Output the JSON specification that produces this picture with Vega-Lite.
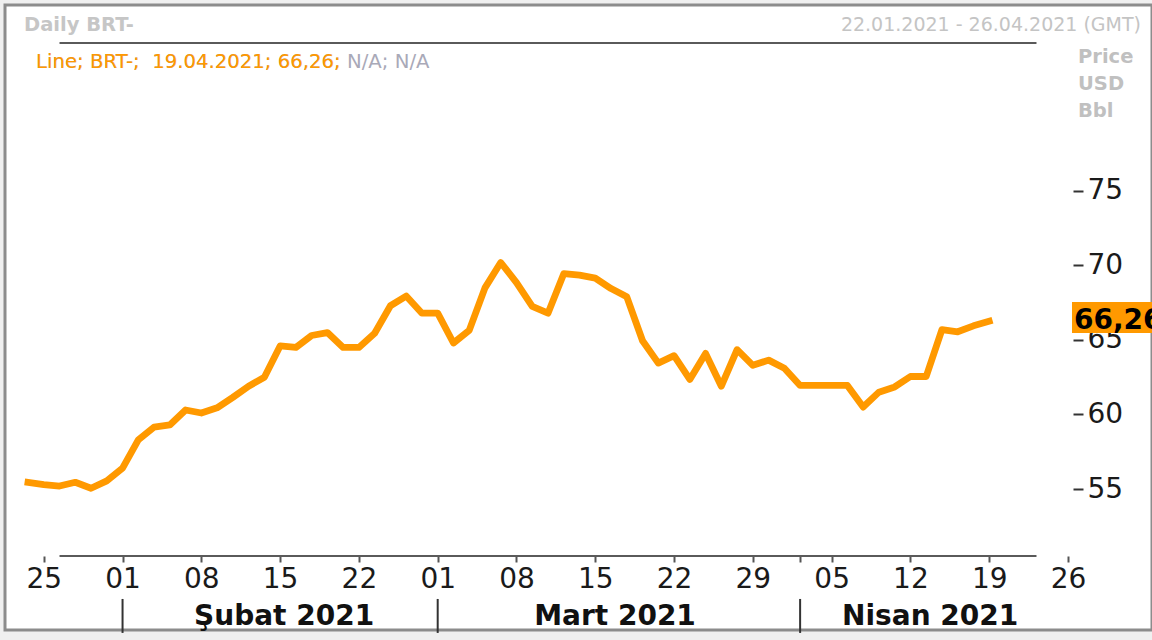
{
  "$schema": "https://vega.github.io/schema/vega-lite/v6.json",
  "width": 1147,
  "height": 625,
  "autosize": {"type": "none"},
  "padding": {"left": 5, "top": 5, "right": 0, "bottom": 10},
  "background": "#f0f0f0",
  "view": {"fill": "white", "stroke": "#8c8c8c", "strokeWidth": 3},
  "config": {"font": "DejaVu Sans"},
  "resolve": {"axis": {"x": "independent", "y": "independent"}},
  "datasets": {
    "brt": [
      {"date": "2021-01-22", "price": 55.45},
      {"date": "2021-01-25", "price": 55.3},
      {"date": "2021-01-26", "price": 55.2},
      {"date": "2021-01-27", "price": 55.45},
      {"date": "2021-01-28", "price": 55.05},
      {"date": "2021-01-29", "price": 55.55},
      {"date": "2021-02-01", "price": 56.4},
      {"date": "2021-02-02", "price": 58.3},
      {"date": "2021-02-03", "price": 59.15},
      {"date": "2021-02-04", "price": 59.3},
      {"date": "2021-02-05", "price": 60.3},
      {"date": "2021-02-08", "price": 60.1},
      {"date": "2021-02-09", "price": 60.45},
      {"date": "2021-02-10", "price": 61.15},
      {"date": "2021-02-11", "price": 61.9},
      {"date": "2021-02-12", "price": 62.5},
      {"date": "2021-02-15", "price": 64.6},
      {"date": "2021-02-16", "price": 64.5},
      {"date": "2021-02-17", "price": 65.3},
      {"date": "2021-02-18", "price": 65.5},
      {"date": "2021-02-19", "price": 64.5},
      {"date": "2021-02-22", "price": 64.5},
      {"date": "2021-02-23", "price": 65.45},
      {"date": "2021-02-24", "price": 67.3},
      {"date": "2021-02-25", "price": 67.95},
      {"date": "2021-02-26", "price": 66.8},
      {"date": "2021-03-01", "price": 66.8},
      {"date": "2021-03-02", "price": 64.8},
      {"date": "2021-03-03", "price": 65.65},
      {"date": "2021-03-04", "price": 68.5},
      {"date": "2021-03-05", "price": 70.2},
      {"date": "2021-03-08", "price": 68.85},
      {"date": "2021-03-09", "price": 67.25},
      {"date": "2021-03-10", "price": 66.8},
      {"date": "2021-03-11", "price": 69.45},
      {"date": "2021-03-12", "price": 69.35},
      {"date": "2021-03-15", "price": 69.15},
      {"date": "2021-03-16", "price": 68.45},
      {"date": "2021-03-17", "price": 67.9},
      {"date": "2021-03-18", "price": 64.95},
      {"date": "2021-03-19", "price": 63.45},
      {"date": "2021-03-22", "price": 63.95},
      {"date": "2021-03-23", "price": 62.35},
      {"date": "2021-03-24", "price": 64.1},
      {"date": "2021-03-25", "price": 61.9},
      {"date": "2021-03-26", "price": 64.35},
      {"date": "2021-03-29", "price": 63.3},
      {"date": "2021-03-30", "price": 63.65},
      {"date": "2021-03-31", "price": 63.1},
      {"date": "2021-04-01", "price": 61.95},
      {"date": "2021-04-02", "price": 61.95},
      {"date": "2021-04-05", "price": 61.95},
      {"date": "2021-04-06", "price": 61.95},
      {"date": "2021-04-07", "price": 60.5},
      {"date": "2021-04-08", "price": 61.5},
      {"date": "2021-04-09", "price": 61.85},
      {"date": "2021-04-12", "price": 62.55},
      {"date": "2021-04-13", "price": 62.55},
      {"date": "2021-04-14", "price": 65.7},
      {"date": "2021-04-15", "price": 65.55},
      {"date": "2021-04-16", "price": 65.95},
      {"date": "2021-04-19", "price": 66.26}
    ],
    "months": [
      {"month": "Şubat 2021", "start": "2021-02-01", "mid": "2021-02-15"},
      {"month": "Mart 2021", "start": "2021-03-01", "mid": "2021-03-16"},
      {"month": "Nisan 2021", "start": "2021-04-01", "mid": "2021-04-13"}
    ]
  },
  "layer": [
    {
      "data": {"name": "brt"},
      "mark": {"type": "line", "color": "#ff9900", "strokeWidth": 6.8, "strokeCap": "square", "strokeJoin": "round"},
      "encoding": {
        "x": {
          "field": "date",
          "type": "ordinal",
          "sort": null,
          "scale": {
            "type": "point",
            "padding": 0,
            "range": [23, 1063],
            "domain": ["2021-01-22","2021-01-25","2021-01-26","2021-01-27","2021-01-28","2021-01-29",
              "2021-02-01","2021-02-02","2021-02-03","2021-02-04","2021-02-05",
              "2021-02-08","2021-02-09","2021-02-10","2021-02-11","2021-02-12",
              "2021-02-15","2021-02-16","2021-02-17","2021-02-18","2021-02-19",
              "2021-02-22","2021-02-23","2021-02-24","2021-02-25","2021-02-26",
              "2021-03-01","2021-03-02","2021-03-03","2021-03-04","2021-03-05",
              "2021-03-08","2021-03-09","2021-03-10","2021-03-11","2021-03-12",
              "2021-03-15","2021-03-16","2021-03-17","2021-03-18","2021-03-19",
              "2021-03-22","2021-03-23","2021-03-24","2021-03-25","2021-03-26",
              "2021-03-29","2021-03-30","2021-03-31","2021-04-01","2021-04-02",
              "2021-04-05","2021-04-06","2021-04-07","2021-04-08","2021-04-09",
              "2021-04-12","2021-04-13","2021-04-14","2021-04-15","2021-04-16",
              "2021-04-19","2021-04-20","2021-04-21","2021-04-22","2021-04-23",
              "2021-04-26"]
          },
          "axis": {
            "title": null,
            "orient": "bottom",
            "offset": -74,
            "domain": false,
            "grid": false,
            "values": ["2021-01-25","2021-02-01","2021-02-08","2021-02-15","2021-02-22","2021-03-01","2021-03-08","2021-03-15","2021-03-22","2021-03-29","2021-04-01","2021-04-05","2021-04-12","2021-04-19","2021-04-26"],
            "labelExpr": "datum.value == '2021-04-01' ? '' : slice(datum.value, 8)",
            "labelAngle": 0,
            "labelOverlap": false,
            "labelBound": false,
            "labelFlush": false,
            "labelFont": "DejaVu Sans",
            "labelFontSize": 28,
            "labelColor": "#1a1a1a",
            "labelPadding": 3,
            "tickSize": 6,
            "tickWidth": 2,
            "tickColor": "#555555"
          }
        },
        "y": {
          "field": "price",
          "type": "quantitative",
          "scale": {"domain": [45.537, 87.483], "nice": false, "zero": false},
          "axis": {
            "title": null,
            "orient": "right",
            "offset": -79,
            "domain": false,
            "grid": false,
            "values": [55, 60, 65, 70, 75],
            "labelFont": "DejaVu Sans",
            "labelFontSize": 28,
            "labelColor": "#1a1a1a",
            "labelPadding": 4,
            "tickSize": 10,
            "tickWidth": 2,
            "tickColor": "#333333"
          }
        }
      }
    },
    {
      "data": {"values": [{}]},
      "mark": {"type": "rule", "color": "#5a5a5a", "strokeWidth": 2},
      "encoding": {
        "x": {"datum": "2021-01-26", "type": "ordinal", "axis": null},
        "x2": {"datum": "2021-04-22"},
        "y": {"datum": 84.93, "type": "quantitative", "axis": null}
      }
    },
    {
      "data": {"values": [{}]},
      "mark": {"type": "rule", "color": "#5a5a5a", "strokeWidth": 2},
      "encoding": {
        "x": {"datum": "2021-01-26", "type": "ordinal", "axis": null},
        "x2": {"datum": "2021-04-22"},
        "y": {"datum": 50.5, "type": "quantitative", "axis": null}
      }
    },
    {
      "data": {"name": "months"},
      "mark": {"type": "rule", "color": "#333333", "strokeWidth": 2},
      "encoding": {
        "x": {"field": "start", "type": "ordinal", "axis": null},
        "y": {"datum": 47.62, "type": "quantitative", "axis": null},
        "y2": {"datum": 45.34}
      }
    },
    {
      "data": {"name": "months"},
      "mark": {"type": "text", "font": "DejaVu Sans", "fontWeight": "bold", "fontSize": 28, "color": "#111111", "align": "center", "baseline": "middle", "dx": 4},
      "encoding": {
        "x": {"field": "mid", "type": "ordinal", "axis": null},
        "y": {"datum": 46.4, "type": "quantitative", "axis": null},
        "text": {"field": "month"}
      }
    },
    {
      "data": {"values": [{}]},
      "mark": {"type": "point", "shape": "M0.1,-0.39L3,-0.39L3,0.39L0.1,0.39Z", "size": 6400, "filled": true, "color": "#ff9900", "opacity": 1, "strokeWidth": 0},
      "encoding": {
        "x": {"datum": "2021-04-26", "type": "ordinal", "axis": null},
        "y": {"datum": 66.51, "type": "quantitative", "axis": null}
      }
    },
    {
      "data": {"values": [{}]},
      "mark": {"type": "text", "font": "DejaVu Sans", "fontWeight": "bold", "fontSize": 28, "color": "#000000", "align": "left", "baseline": "middle", "dx": 6},
      "encoding": {
        "x": {"datum": "2021-04-26", "type": "ordinal", "axis": null},
        "y": {"datum": 66.28, "type": "quantitative", "axis": null},
        "text": {"value": "66,26"}
      }
    },
    {
      "data": {"values": [{}]},
      "mark": {"type": "text", "font": "DejaVu Sans", "fontWeight": "bold", "fontSize": 19.5, "color": "#c6c6c6", "align": "left", "baseline": "middle", "dx": -4},
      "encoding": {
        "x": {"datum": "2021-01-22", "type": "ordinal", "axis": null},
        "y": {"datum": 86.14, "type": "quantitative", "axis": null},
        "text": {"value": "Daily BRT-"}
      }
    },
    {
      "data": {"values": [{}]},
      "mark": {"type": "text", "font": "DejaVu Sans", "fontSize": 19.7, "color": "#a9a9b8", "align": "left", "baseline": "middle", "dx": 8},
      "encoding": {
        "x": {"datum": "2021-01-22", "type": "ordinal", "axis": null},
        "y": {"datum": 83.66, "type": "quantitative", "axis": null},
        "text": {"value": "Line; BRT-;\u00a0 19.04.2021; 66,26; N/A; N/A"}
      }
    },
    {
      "data": {"values": [{}]},
      "mark": {"type": "text", "font": "DejaVu Sans", "fontSize": 19.7, "color": "#ff9900", "align": "left", "baseline": "middle", "dx": 8},
      "encoding": {
        "x": {"datum": "2021-01-22", "type": "ordinal", "axis": null},
        "y": {"datum": 83.66, "type": "quantitative", "axis": null},
        "text": {"value": "Line; BRT-;\u00a0 19.04.2021; 66,26;"}
      }
    },
    {
      "data": {"values": [{}]},
      "mark": {"type": "text", "font": "DejaVu Sans", "fontSize": 19, "color": "#c4c4c4", "align": "right", "baseline": "middle", "dx": 73},
      "encoding": {
        "x": {"datum": "2021-04-26", "type": "ordinal", "axis": null},
        "y": {"datum": 86.14, "type": "quantitative", "axis": null},
        "text": {"value": "22.01.2021 - 26.04.2021 (GMT)"}
      }
    },
    {
      "data": {"values": [{}]},
      "mark": {"type": "text", "font": "DejaVu Sans", "fontWeight": "bold", "fontSize": 19.5, "color": "#c0c0c0", "align": "left", "baseline": "middle", "dx": 10, "lineHeight": 27},
      "encoding": {
        "x": {"datum": "2021-04-26", "type": "ordinal", "axis": null},
        "y": {"datum": 83.99, "type": "quantitative", "axis": null},
        "text": {"value": ["Price", "USD", "Bbl"]}
      }
    }
  ]
}
